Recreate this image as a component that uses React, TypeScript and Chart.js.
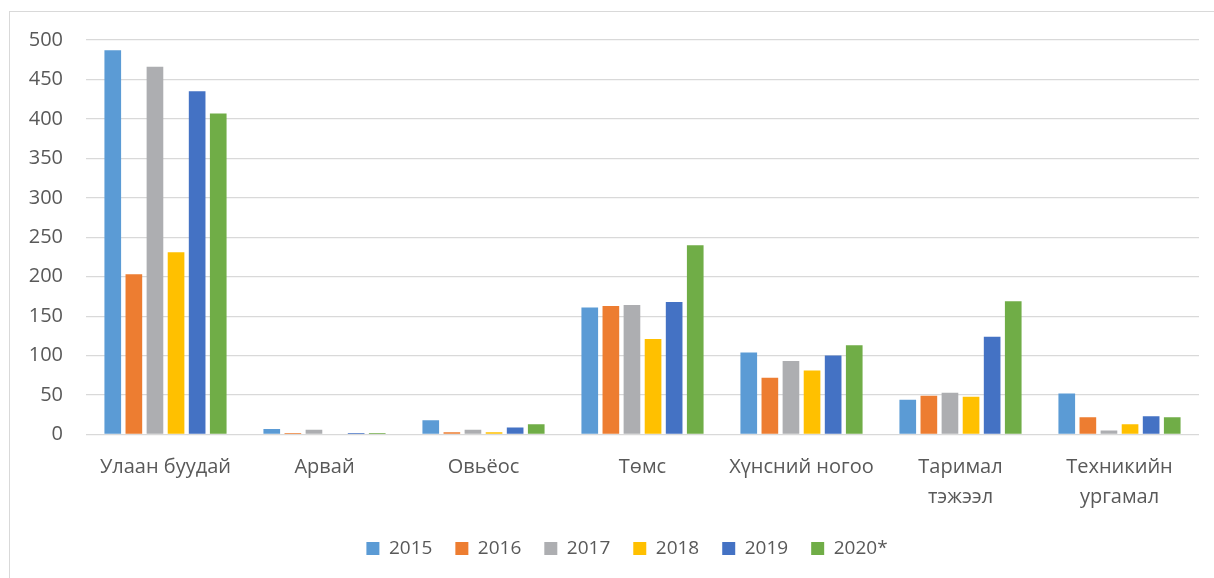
import React, { useEffect, useRef } from "react";
import { Chart, registerables } from "chart.js";

Chart.register(...registerables);

const categories: (string | string[])[] = [
  "Улаан буудай",
  "Арвай",
  "Овьёос",
  "Төмс",
  "Хүнсний ногоо",
  ["Таримал", "тэжээл"],
  ["Техникийн", "ургамал"],
];

const seriesNames = ["2015", "2016", "2017", "2018", "2019", "2020*"];

const values2015 = [487, 7, 18, 161, 104, 44, 52];
const values2016 = [203, 2, 3, 163, 72, 49, 22];
const values2017 = [466, 6, 6, 164, 93, 53, 5];
const values2018 = [231, 1, 3, 121, 81, 48, 13];
const values2019 = [435, 2, 9, 168, 100, 124, 23];
const values2020 = [407, 2, 13, 240, 113, 169, 22];

const seriesValues = [values2015, values2016, values2017, values2018, values2019, values2020];
const seriesColors = ["#5B9BD5", "#ED7D31", "#ADAEB1", "#FFC000", "#4472C4", "#70AD47"];

const yTicks = [0, 50, 100, 150, 200, 250, 300, 350, 400, 450, 500];

const FONT = "'Open Sans', 'Noto Sans', sans-serif";
const TEXT = "#595959";
const GRID = "#D9D9D9";

const legendShift = {
  id: "legendShift",
  afterLayout(chart: any) {
    if (chart.legend) {
      chart.legend.left += 55;
    }
  },
};

export default function App() {
  const canvasRef = useRef<HTMLCanvasElement | null>(null);

  useEffect(() => {
    document.body.style.margin = "0";
    document.body.style.overflow = "hidden";
    const canvas = canvasRef.current;
    if (!canvas) return;
    const chart = new Chart(canvas, {
      type: "bar",
      data: {
        labels: categories,
        datasets: seriesNames.map((name, i) => ({
          label: name,
          data: seriesValues[i],
          backgroundColor: seriesColors[i],
          borderWidth: 0,
          categoryPercentage: 0.796,
          barPercentage: 0.79,
        })),
      },
      options: {
        responsive: false,
        animation: false,
        layout: { padding: { left: 0, right: 15, top: 40, bottom: 32 } },
        plugins: {
          title: { display: false },
          tooltip: { enabled: false },
          legend: {
            position: "bottom",
            labels: {
              boxWidth: 13,
              boxHeight: 13,
              padding: 23,
              color: TEXT,
              font: { family: FONT, size: 19 },
            },
          },
        },
        scales: {
          x: {
            grid: { display: false, drawTicks: false },
            border: { display: false },
            ticks: {
              color: TEXT,
              padding: 18,
              maxRotation: 0,
              autoSkip: false,
              font: { family: FONT, size: 20, lineHeight: 1.5 },
            },
            afterFit: (scale: any) => {
              scale.height = 81.5;
            },
          },
          y: {
            min: 0,
            max: 500,
            afterBuildTicks: (scale: any) => {
              scale.ticks = yTicks.map((v) => ({ value: v }));
            },
            grid: { color: GRID, lineWidth: 1.3, drawTicks: false },
            border: { display: false },
            ticks: {
              color: TEXT,
              padding: 23,
              font: { family: FONT, size: 20 },
            },
            afterFit: (scale: any) => {
              scale.width = 86;
            },
          },
        },
      },
      plugins: [legendShift],
    });
    return () => chart.destroy();
  }, []);

  return (
    <div style={{ position: "relative", width: 1214, height: 578, overflow: "hidden", background: "#fff" }}>
      <div
        style={{
          position: "absolute",
          left: 9,
          top: 11,
          width: 1230,
          height: 620,
          border: "1px solid #D9D9D9",
          boxSizing: "border-box",
        }}
      />
      <canvas ref={canvasRef} width={1214} height={600} style={{ position: "absolute", left: 0, top: 0 }} />
    </div>
  );
}
